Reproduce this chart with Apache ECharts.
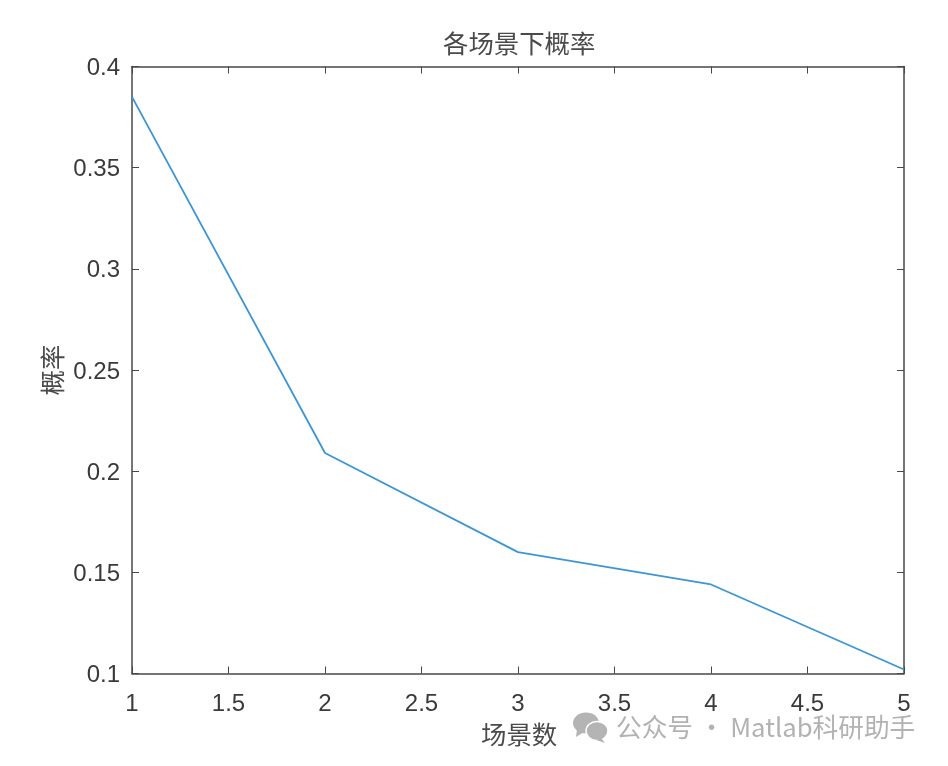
<!DOCTYPE html>
<html><head><meta charset="utf-8">
<style>html,body{margin:0;padding:0;background:#fff}#c{width:948px;height:766px}</style>
<script src="https://cdn.jsdelivr.net/npm/echarts@6/dist/echarts.min.js"></script>
</head><body><div id="c"></div>
<script>
const scenes = [1, 2, 3, 4, 5];
const probabilities = [0.385, 0.209, 0.160, 0.144, 0.102];
const titleText = '各场景下概率';
const xName = '场景数';
const yName = '概率';
const watermark = '公众号 · Matlab科研助手';
const axisColor = '#484848';
const cjk = '"Noto Sans CJK SC"';
function xAx(pos, show){return {type:'value',position:pos,min:1,max:5,interval:0.5,
  axisLine:{show:true,lineStyle:{color:axisColor,width:1.5}},
  axisTick:{show:true,inside:true,length:7,lineStyle:{color:axisColor,width:1}},
  axisLabel:{show:show,margin:19,color:'#3a3a3a',fontFamily:'Liberation Sans',fontSize:24,
    formatter:v=>String(+v.toFixed(1)),hideOverlap:false,showMinLabel:true,showMaxLabel:true},
  splitLine:{show:false}};}
function yAx(pos, show){return {type:'value',position:pos,min:0.1,max:0.4,interval:0.05,
  axisLine:{show:true,lineStyle:{color:axisColor,width:1.5}},
  axisTick:{show:true,inside:true,length:7,lineStyle:{color:axisColor,width:1}},
  axisLabel:{show:show,margin:12,color:'#3a3a3a',fontFamily:'Liberation Sans',fontSize:24,verticalAlign:'top',lineHeight:4,
    formatter:v=>String(+v.toFixed(2)),showMinLabel:true,showMaxLabel:true},
  splitLine:{show:false}};}
const chart = echarts.init(document.getElementById('c'),null,{renderer:'canvas'});
chart.setOption({
  animation:false,backgroundColor:'#fff',
  grid:{left:132,right:44,top:66.5,bottom:92.5,containLabel:false},
  xAxis:[xAx('bottom',true),xAx('top',false)],
  yAxis:[yAx('left',true),yAx('right',false)],
  series:[{type:'line',data:scenes.map((x,i)=>[x,probabilities[i]]),showSymbol:false,symbol:'none',
    lineStyle:{color:'#3c96d4',width:1.8},clip:false,xAxisIndex:0,yAxisIndex:0}],
  graphic:[
    {type:'text',left:443,top:31,style:{text:titleText,font:'25.4px '+cjk,fill:'#4a4a4a'}},
    {type:'text',left:481,top:722,style:{text:xName,font:'25.4px '+cjk,fill:'#4a4a4a'}},
    {type:'text',x:52,y:370,rotation:Math.PI/2,style:{text:yName,font:'25.4px '+cjk,fill:'#4a4a4a',align:'center',verticalAlign:'middle'}},
    {type:'ellipse',shape:{cx:586,cy:723,rx:13,ry:10.5},style:{fill:'#b4b4b4'}},
    {type:'polygon',shape:{points:[[577,729],[576,737],[584,732]]},style:{fill:'#b4b4b4'}},
    {type:'ellipse',shape:{cx:597,cy:731,rx:11,ry:9.5},style:{fill:'#b4b4b4',stroke:'#fff',lineWidth:1.5}},
    {type:'polygon',shape:{points:[[601,738],[605,743],[596,740]]},style:{fill:'#b4b4b4'}},
    {type:'text',left:616,top:714,style:{text:watermark,font:'25.7px '+cjk,fill:'#b2b2b2'}}
  ]
});
</script></body></html>
